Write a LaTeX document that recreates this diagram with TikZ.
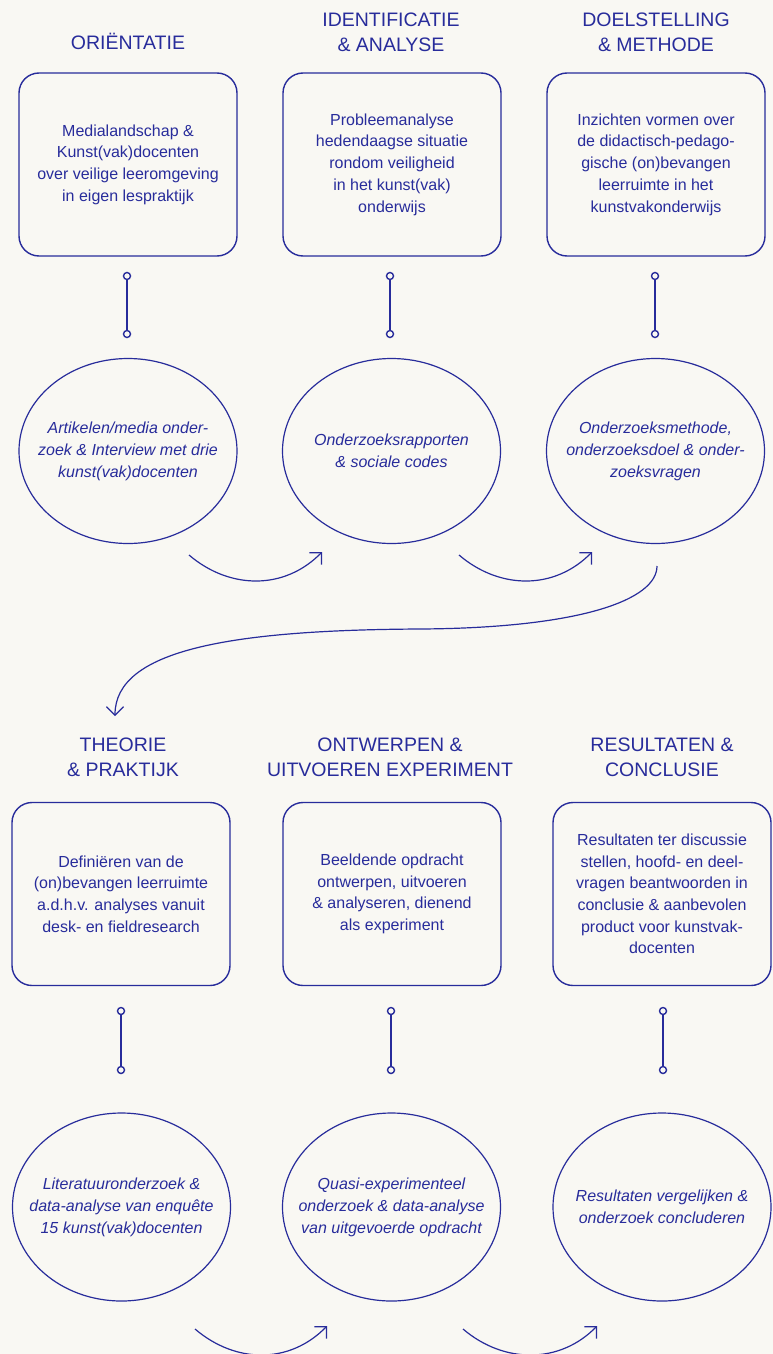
\documentclass[tikz,border=0pt]{standalone}
\usepackage{fontspec}
\setmainfont{Liberation Sans}
\usetikzlibrary{shapes.geometric,arrows.meta}
\definecolor{ink}{RGB}{40,44,155}
\definecolor{paper}{RGB}{249,248,243}

\begin{document}
\begin{tikzpicture}[x=1pt,y=-1pt,
  heading/.style={text=ink, font=\fontsize{19.5}{25}\selectfont, align=center,
    anchor=south, inner sep=0pt, text depth=0pt},
  stepbox/.style={draw=ink, line width=1.4pt, rounded corners=20pt,
    minimum width=218pt, minimum height=183pt, text=ink, align=center,
    font=\fontsize{16}{21.7}\selectfont, inner sep=0pt},
  source/.style={ellipse, draw=ink, line width=1.2pt, minimum width=218pt,
    minimum height=185pt, inner sep=0pt},
  srctext/.style={text=ink, align=center, font=\fontsize{16}{22}\selectfont\itshape,
    inner sep=0pt},
  pin/.style={circle, draw=ink, line width=1.4pt, minimum size=7pt, inner sep=0pt,
    fill=paper},
  link/.style={draw=ink, line width=1.3pt},
  flow/.style={draw=ink, line width=1.2pt,
    -{Straight Barb[length=8.5pt,width=17pt]}}
]
% page
\fill[paper] (0,0) rectangle (773,1354);
\useasboundingbox (0,0) rectangle (773,1354);

% ---------- first row ----------
\node[heading] (h1) at (128,50) {ORIËNTATIE};
\node[heading] (h2) at (391,52) {IDENTIFICATIE\\\& ANALYSE};
\node[heading] (h3) at (656,52) {DOELSTELLING\\\& METHODE};

\node[stepbox] (b1) at (128,164.5) {Medialandschap \&\\Kunst(vak)docenten\\over veilige leeromgeving\\in eigen lespraktijk};
\node[stepbox] (b2) at (392,164.5) {Probleemanalyse\\hedendaagse situatie\\rondom veiligheid\\in het kunst(vak)\\onderwijs};
\node[stepbox] (b3) at (656,164.5) {Inzichten vormen over\\de didactisch-pedago-\\gische (on)bevangen\\leerruimte in het\\kunstvakonderwijs};

\node[pin] (p1a) at (127,276) {};
\node[pin] (p1b) at (127,334) {};
\node[pin] (p2a) at (390,276) {};
\node[pin] (p2b) at (390,334) {};
\node[pin] (p3a) at (655,276) {};
\node[pin] (p3b) at (655,334) {};
\draw[link] (p1a) -- (p1b);
\draw[link] (p2a) -- (p2b);
\draw[link] (p3a) -- (p3b);

\node[source, label={[srctext]center:{Artikelen/media onder-\\zoek \& Interview met drie\\kunst(vak)docenten}}] (e1) at (128,451) {};
\node[source, label={[srctext]center:{Onderzoeksrapporten\\\& sociale codes}}] (e2) at (391.5,451) {};
\node[source, label={[srctext]center:{Onderzoeksmethode,\\onderzoeksdoel \& onder-\\zoeksvragen}}] (e3) at (655.5,451) {};

\coordinate (a1s) at (189,555);
\coordinate (a1e) at (322,552);
\coordinate (a2s) at (459,555);
\coordinate (a2e) at (592,552);
\draw[flow] (a1s) .. controls (230,590) and (285,590) .. (a1e);
\draw[flow] (a2s) .. controls (500,590) and (555,590) .. (a2e);

% ---------- turn to the second row ----------
\coordinate (ts) at (657,566);
\coordinate (tm) at (420,629);
\coordinate (te) at (115,716);
\draw[flow] (ts) .. controls (657,600) and (580,628) .. (tm)
               .. controls (230,630) and (115,650) .. (te);

% ---------- second row ----------
\node[heading] (h4) at (123,777) {THEORIE\\\& PRAKTIJK};
\node[heading] (h5) at (390,777) {ONTWERPEN \&\\UITVOEREN EXPERIMENT};
\node[heading] (h6) at (662,777) {RESULTATEN \&\\CONCLUSIE};

\node[stepbox] (b4) at (121,894) {Definiëren van de\\(on)bevangen leerruimte\\a.d.h.v. analyses vanuit\\desk- en fieldresearch};
\node[stepbox] (b5) at (392,894) {Beeldende opdracht\\ontwerpen, uitvoeren\\\& analyseren, dienend\\als experiment};
\node[stepbox] (b6) at (662,894) {Resultaten ter discussie\\stellen, hoofd- en deel-\\vragen beantwoorden in\\conclusie \& aanbevolen\\product voor kunstvak-\\docenten};

\node[pin] (p4a) at (121,1011) {};
\node[pin] (p4b) at (121,1070) {};
\node[pin] (p5a) at (391,1011) {};
\node[pin] (p5b) at (391,1070) {};
\node[pin] (p6a) at (663,1011) {};
\node[pin] (p6b) at (663,1070) {};
\draw[link] (p4a) -- (p4b);
\draw[link] (p5a) -- (p5b);
\draw[link] (p6a) -- (p6b);

\node[source, minimum height=188pt, label={[srctext]center:{Literatuuronderzoek \&\\data-analyse van enquête\\15 kunst(vak)docenten}}] (e4) at (121.5,1207) {};
\node[source, minimum height=188pt, label={[srctext]center:{Quasi-experimenteel\\onderzoek \& data-analyse\\van uitgevoerde opdracht}}] (e5) at (391.5,1207) {};
\node[source, minimum height=188pt, label={[srctext]center:{Resultaten vergelijken \&\\onderzoek concluderen}}] (e6) at (662,1207) {};

\coordinate (a4s) at (195,1329);
\coordinate (a4e) at (327,1326);
\coordinate (a5s) at (463,1329);
\coordinate (a5e) at (597,1326);
\draw[flow] (a4s) .. controls (236,1364) and (290,1364) .. (a4e);
\draw[flow] (a5s) .. controls (504,1364) and (560,1364) .. (a5e);
\end{tikzpicture}
\end{document}
